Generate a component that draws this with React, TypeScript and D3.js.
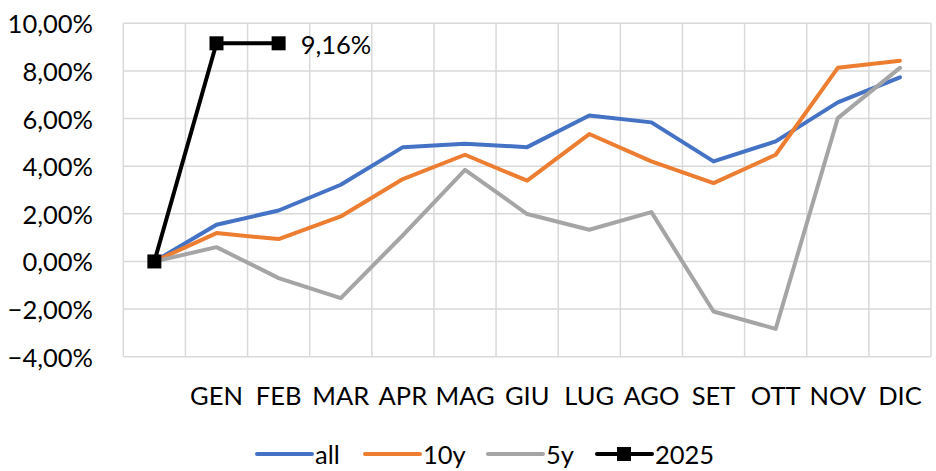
import { useEffect, useRef } from 'react'
import * as d3 from 'd3'

const months = ['', 'GEN', 'FEB', 'MAR', 'APR', 'MAG', 'GIU', 'LUG', 'AGO', 'SET', 'OTT', 'NOV', 'DIC']
const allValues = [0, 1.54, 2.14, 3.22, 4.8, 4.94, 4.8, 6.13, 5.84, 4.2, 5.04, 6.68, 7.73]
const tenYValues = [0, 1.19, 0.94, 1.89, 3.46, 4.48, 3.39, 5.35, 4.2, 3.29, 4.48, 8.13, 8.43]
const fiveYValues = [0, 0.6, -0.7, -1.54, 1.1, 3.85, 1.99, 1.33, 2.07, -2.1, -2.83, 6.02, 8.13]
const y2025Values = [0, 9.16, 9.16]
const yTicks = [-4, -2, 0, 2, 4, 6, 8, 10]

const SERIES = [
  { name: 'all', values: allValues, color: '#4472C4' },
  { name: '10y', values: tenYValues, color: '#ED7D31' },
  { name: '5y', values: fiveYValues, color: '#A5A5A5' },
  { name: '2025', values: y2025Values, color: '#000000', marker: true }
]

const itLocale = d3.formatLocale({ decimal: ',', thousands: '.', grouping: [3], currency: ['€', ''] })
const fmt = (v: number) => itLocale.format('.2f')(v) + '%'

export default function App() {
  const svgRef = useRef<SVGSVGElement>(null)

  useEffect(() => {
    const W = 936
    const H = 471
    const left = 123.3
    const right = 931
    const top = 23.3
    const bottom = 356.7
    const font = 'Lato, "Open Sans", sans-serif'
    const fontSize = '25.5px'

    const svg = d3.select(svgRef.current)
    svg.selectAll('*').remove()
    svg.attr('width', W).attr('height', H)

    const x = d3.scaleBand().domain(months).range([left, right]).padding(0)
    const cx = (i: number) => (x(months[i]) as number) + x.bandwidth() / 2
    const y = d3.scaleLinear().domain([-4, 10]).range([bottom, top])

    // grid
    const grid = svg.append('g').attr('stroke', '#D9D9D9').attr('stroke-width', 1.5)
    grid.selectAll('.h')
      .data(yTicks)
      .join('line')
      .attr('x1', left).attr('x2', right)
      .attr('y1', d => y(d)).attr('y2', d => y(d))
    grid.selectAll('.v')
      .data([...months.map(m => x(m) as number), right])
      .join('line')
      .attr('x1', d => d).attr('x2', d => d)
      .attr('y1', top).attr('y2', bottom)

    // y tick labels
    svg.append('g').selectAll('text')
      .data(yTicks)
      .join('text')
      .attr('x', 93)
      .attr('y', d => y(d))
      .attr('text-anchor', 'end')
      .attr('dominant-baseline', 'central')
      .attr('font-family', font)
      .attr('font-size', fontSize)
      .attr('fill', '#000')
      .text(d => fmt(d))

    // x labels
    svg.append('g').selectAll('text')
      .data(months.slice(1))
      .join('text')
      .attr('x', d => (x(d) as number) + x.bandwidth() / 2)
      .attr('y', 395)
      .attr('text-anchor', 'middle')
      .attr('dominant-baseline', 'central')
      .attr('font-family', font)
      .attr('font-size', fontSize)
      .attr('fill', '#000')
      .text(d => d)

    const line = d3.line<number>().x((_, i) => cx(i)).y(d => y(d))

    SERIES.forEach(s => {
      svg.append('path')
        .datum(s.values)
        .attr('d', line)
        .attr('fill', 'none')
        .attr('stroke', s.color)
        .attr('stroke-width', 4)
        .attr('stroke-linejoin', 'round')
        .attr('stroke-linecap', 'round')
      if (s.marker) {
        svg.append('g').selectAll('rect')
          .data(s.values)
          .join('rect')
          .attr('x', (_, i) => cx(i) - 7)
          .attr('y', d => y(d) - 7)
          .attr('width', 14)
          .attr('height', 14)
          .attr('fill', s.color)
      }
    })

    // data label for the last 2025 point
    const last = y2025Values.length - 1
    svg.append('text')
      .attr('x', cx(last) + 22)
      .attr('y', y(y2025Values[last]) + 1)
      .attr('dominant-baseline', 'central')
      .attr('font-family', font)
      .attr('font-size', fontSize)
      .attr('fill', '#000')
      .text(fmt(y2025Values[last]))

    // legend
    const legendX = [257, 365, 488, 597]
    const ly = 454
    const lg = svg.append('g').selectAll('g')
      .data(SERIES)
      .join('g')
      .attr('transform', (_, i) => `translate(${legendX[i]},${ly})`)
    lg.append('line')
      .attr('x1', 0).attr('x2', 55)
      .attr('stroke', d => d.color)
      .attr('stroke-width', 4)
      .attr('stroke-linecap', 'round')
    lg.filter(d => !!d.marker)
      .append('rect')
      .attr('x', 20).attr('y', -7)
      .attr('width', 14).attr('height', 14)
      .attr('fill', d => d.color)
    lg.append('text')
      .attr('x', 58)
      .attr('dominant-baseline', 'central')
      .attr('font-family', font)
      .attr('font-size', fontSize)
      .attr('fill', '#000')
      .text(d => d.name)
  }, [])

  return (
    <svg ref={svgRef} style={{ position: 'absolute', left: 0, top: 0, background: '#fff' }} />
  )
}
